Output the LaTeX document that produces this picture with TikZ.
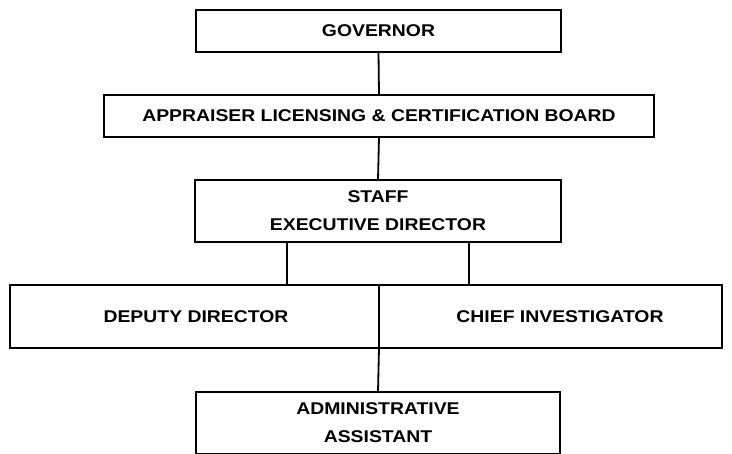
\documentclass[tikz,border=0pt]{standalone}
\usepackage{fontspec}
\setmainfont{Liberation Sans}
\newfontfamily\chartfont[FakeStretch=1.14]{Liberation Sans}
\begin{document}
\begin{tikzpicture}[x=1pt,y=-1pt,
  lbl/.style={font=\chartfont\fontsize{17}{28}\selectfont\bfseries,align=center,inner sep=0pt},
  box/.style={lbl,draw=black,line width=1.8pt,outer sep=0pt},
  conn/.style={draw=black,line width=1.8pt}]
\useasboundingbox[fill=white] (0,0) rectangle (732,454);
\node[box,minimum width=365,minimum height=42] (gov) at (378.5,31) {GOVERNOR};
\node[box,minimum width=550,minimum height=42] (board) at (379,116) {APPRAISER LICENSING \& CERTIFICATION BOARD};
\node[box,minimum width=366,minimum height=62] (staff) at (378,211) {STAFF\\EXECUTIVE DIRECTOR};
\node[box,minimum width=369,minimum height=63,anchor=east] (dep) at (379,316.5) {};
\node[box,minimum width=343,minimum height=63,anchor=west] (chief) at (379,316.5) {};
\node[lbl] (deptxt) at (196,317) {DEPUTY DIRECTOR};
\node[lbl] (chieftxt) at (560,317) {CHIEF INVESTIGATOR};
\node[box,minimum width=364,minimum height=62,anchor=north] (adm) at (378,392) {ADMINISTRATIVE\\ASSISTANT};
\draw[conn] (gov.south) -- (board.north);
\draw[conn] (board.south) -- (staff.north);
\draw[conn] (staff.south -| 287,0) -- (dep.north -| 287,0);
\draw[conn] (staff.south -| 469,0) -- (chief.north -| 469,0);
\draw[conn] (dep.south east) -- (adm.north);
\end{tikzpicture}
\end{document}
